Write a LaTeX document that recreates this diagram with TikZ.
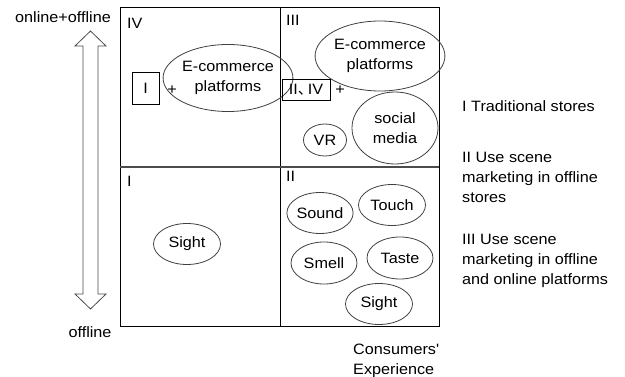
\documentclass[tikz,border=0pt]{standalone}
\usepackage{fontspec}
\setmainfont{Liberation Sans}[FakeStretch=1.08, Ligatures=TeXOff]
\newfontfamily\cjkfont{Noto Sans CJK SC}
\usetikzlibrary{shapes.geometric}
\tikzset{
  txt/.style={inner sep=0pt, font=\fontsize{15}{20}\selectfont},
  ell/.style={ellipse, draw=black!75, line width=0.8pt, inner sep=0pt, align=center, font=\fontsize{15}{20}\selectfont},
  sq/.style={rectangle, draw=black, line width=0.8pt, inner sep=0pt, font=\fontsize{15}{20}\selectfont},
  frame/.style={draw=black, line width=1pt},
}
\begin{document}
\begin{tikzpicture}[x=1pt, y=-1pt]
\useasboundingbox (0,0) rectangle (625,377);
% grid
\coordinate (tl) at (120,8);
\coordinate (br) at (439,327);
\coordinate (tm) at (280,8);
\coordinate (bm) at (280,327);
\coordinate (lm) at (120,167);
\coordinate (rm) at (439,167);
\draw[frame] (tl) rectangle (br);
\draw[frame] (tm) -- (bm);
\draw[frame, draw=black!70, line width=1.2pt] (lm) -- (rm);
% double arrow
\draw[draw=black!70, line width=0.8pt, fill=white]
  (90.5,31) -- (106,46) -- (98,46) -- (98,294) -- (106,294) -- (90.5,309)
  -- (75,294) -- (83,294) -- (83,46) -- (75,46) -- cycle;
\node[txt] (top) at (63,17) {online+offline};
\node[txt] (bot) at (90,332) {offline};
% quadrant labels
\node[txt, anchor=base west] (qIV) at (127,29) {IV};
\node[txt, anchor=base west] (qIII) at (286,26) {III};
\node[txt, anchor=base west] (qI) at (127,187) {I};
\node[txt, anchor=base west] (qII) at (286,182) {II};
% quadrant IV
\node[sq, minimum width=27pt, minimum height=32pt] (bI) at (145.5,88) {I};
\node[txt] (p1) at (172,90) {+};
\node[ell, minimum width=101pt, minimum height=67pt] (ec1) at (228,78) {E-commerce\\platforms};
% quadrant III
\node[ell, minimum width=104pt, minimum height=70pt] (ec2) at (380,56) {E-commerce\\platforms};
\node[sq, minimum width=48pt, minimum height=21pt] (bIIIV) at (306,89.5) {II\makebox[10pt][l]{\cjkfont 、}IV};
\node[txt] (p2) at (340,90) {+};
\node[ell, minimum width=86pt, minimum height=72pt] (sm) at (395,128) {social\\media};
\node[ell, minimum width=43pt, minimum height=32pt] (vr) at (325,140) {VR};
% quadrant I
\node[ell, minimum width=67pt, minimum height=41pt] (sight1) at (187,244) {Sight};
% quadrant II
\node[ell, minimum width=66pt, minimum height=41pt] (sound) at (320,213) {Sound};
\node[ell, minimum width=67pt, minimum height=41pt] (touch) at (392,205) {Touch};
\node[ell, minimum width=66pt, minimum height=42pt] (smell) at (324,263) {Smell};
\node[ell, minimum width=66pt, minimum height=42pt] (taste) at (400,258) {Taste};
\node[ell, minimum width=67pt, minimum height=41pt] (sight2) at (379,304) {Sight};
% axis label
\node[txt, anchor=base west, align=left] (ce) at (353,374) {Consumers'\\Experience};
% legend
\node[txt, anchor=base west, align=left] (l1) at (462,112) {I Traditional stores};
\node[txt, anchor=base west, align=left] (l2) at (462,203) {II Use scene\\marketing in offline\\stores};
\node[txt, anchor=base west, align=left] (l3) at (462,285) {III Use scene\\marketing in offline\\and online platforms};
\end{tikzpicture}
\end{document}
